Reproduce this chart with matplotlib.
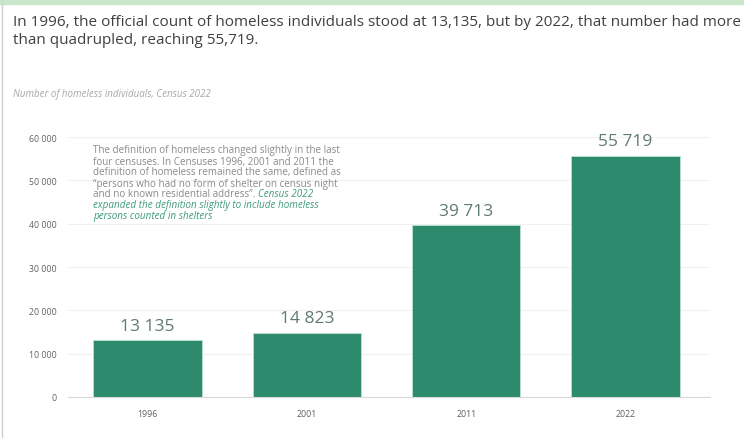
import matplotlib
matplotlib.use('Agg')
import matplotlib.pyplot as plt
from matplotlib.patches import Rectangle

# data
years = ['1996', '2001', '2011', '2022']
homeless = [13135, 14823, 39713, 55719]
yticks = [0, 10000, 20000, 30000, 40000, 50000, 60000]

title = ('In 1996, the official count of homeless individuals stood at 13,135, but by 2022, that number had more\n'
         'than quadrupled, reaching 55,719.')
subtitle = 'Number of homeless individuals, Census 2022'
note_gray = ['The definition of homeless changed slightly in the last',
             'four censuses. In Censuses 1996, 2001 and 2011 the',
             'definition of homeless remained the same, defined as',
             '\u201cpersons who had no form of shelter on census night',
             'and no known residential address\u201d. ']
note_green = ['Census 2022',
              'expanded the definition slightly to include homeless',
              'persons counted in shelters']

bar_col = '#2e8a6d'
label_col = '#5f7a72'
plt.rcParams['font.family'] = ['Open Sans', 'DejaVu Sans']

fig = plt.figure(figsize=(7.44, 4.39), dpi=100)
W, H = 744, 439

# top green band and left border
fig.patches.append(Rectangle((0, 1 - 5 / H), 1, 5 / H, transform=fig.transFigure,
                             color='#c8e6c9', zorder=0))
fig.add_artist(plt.Line2D([2 / W, 2 / W], [0, 1 - 5 / H], transform=fig.transFigure,
                          color='#cfcfcf', lw=1))

fig.text(13 / W, 1 - 15 / H, title, ha='left', va='top', fontsize=10.95,
         color='#404040', linespacing=1.27)
fig.text(13 / W, 1 - 95 / H, subtitle, ha='left', va='center', fontsize=7.0,
         style='italic', color='#a8a8a8')

ax = fig.add_axes([68 / W, (H - 398) / H, (710 - 68) / W, (398 - 138) / H])
x = range(len(years))
ax.bar(x, homeless, width=0.68, color=bar_col, edgecolor='#b9e3d3', linewidth=0.6, zorder=2)
for xi, v in zip(x, homeless):
    ax.text(xi, v + 3300, f'{v:,}'.replace(',', ' '), ha='center', va='center',
            fontsize=12.5, color=label_col, clip_on=False)

ax.set_xlim(-0.5, 3.53)
ax.set_ylim(0, 60000)
ax.set_yticks(yticks)
ax.set_yticklabels([f'{t:,}'.replace(',', ' ') for t in yticks])
ax.set_xticks(list(x))
ax.set_xticklabels(years)
ax.tick_params(length=0, labelsize=6.3, labelcolor='#606060')
ax.tick_params(axis='y', pad=8)
ax.tick_params(axis='x', pad=9)
ax.grid(axis='y', color='#f0f0f0', lw=0.8, zorder=0)
for s in ['top', 'right', 'left']:
    ax.spines[s].set_visible(False)
ax.spines['bottom'].set_color('#d8d8d8')
ax.spines['bottom'].set_linewidth(0.8)

# annotation
fs = 7.1
lh = 11.0
y0 = 151
for i, line in enumerate(note_gray):
    fig.text(93 / W, 1 - (y0 + i * lh) / H, line, ha='left', va='center',
             fontsize=fs, color='#8a8a8a')
fig.canvas.draw()
r = fig.canvas.get_renderer()
last = fig.texts[-1]
bb = last.get_window_extent(renderer=r)
fig.text(bb.x1 / W, 1 - (y0 + 4 * lh) / H, note_green[0], ha='left', va='center',
         fontsize=fs, color='#3e9a7a', style='italic')
for i, line in enumerate(note_green[1:]):
    fig.text(93 / W, 1 - (y0 + (5 + i) * lh) / H, line, ha='left', va='center',
             fontsize=fs, color='#3e9a7a', style='italic')

fig.savefig('out.png', dpi=100)
